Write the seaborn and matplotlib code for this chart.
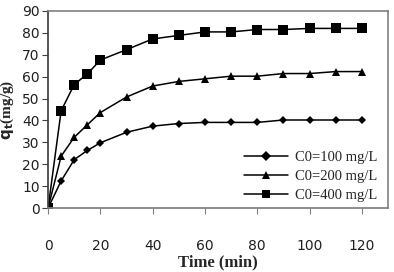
import matplotlib
matplotlib.use('Agg')
import matplotlib.pyplot as plt
import seaborn as sns
import pandas as pd

# contact time (min)
time_min = [0, 5, 10, 15, 20, 30, 40, 50, 60, 70, 80, 90, 100, 110, 120]
# qt (mg/g) for each initial concentration
qt_100 = [0, 12.4, 22.1, 26.3, 29.8, 34.6, 37.4, 38.6, 39.1, 39.1, 39.1, 40.2, 40.2, 40.2, 40.2]
qt_200 = [0, 23.7, 32.3, 38.0, 43.6, 50.7, 55.7, 57.8, 59.0, 60.2, 60.2, 61.4, 61.4, 62.3, 62.3]
qt_400 = [0, 44.4, 56.4, 61.2, 67.6, 72.3, 77.2, 78.8, 80.4, 80.4, 81.5, 81.5, 82.0, 82.0, 82.0]
labels = ["C0=100 mg/L", "C0=200 mg/L", "C0=400 mg/L"]

df = pd.concat([
    pd.DataFrame({"t": time_min, "qt": q, "series": lab})
    for q, lab in zip([qt_100, qt_200, qt_400], labels)
])

sns.set_theme(style="white")
fig = plt.figure(figsize=(3.94, 2.72), dpi=100)
ax = fig.add_axes([0.122, 0.235, 0.863, 0.725])

sns.lineplot(data=df, x="t", y="qt", hue="series", style="series",
             palette=["black"] * 3, markers=["D", "^", "s"], dashes=False,
             markersize=5.5, linewidth=1.1, markeredgewidth=0, ax=ax)
# smaller diamonds like the original
for line, ms in zip(ax.lines[:3], [4, 6, 6.5]):
    line.set_markersize(ms)

ax.set_xlim(0, 130)
ax.set_ylim(0, 90)
ax.set_xticks(range(0, 121, 20))
ax.set_yticks(range(0, 91, 10))
ax.tick_params(axis="y", direction="out", length=4, width=0.8, color="#404040",
               labelsize=10, pad=2, left=True)
ax.tick_params(axis="x", direction="out", length=4, width=0.8, color="#808080",
               labelsize=10, pad=18, bottom=True)
for lab in ax.get_xticklabels() + ax.get_yticklabels():
    lab.set_color("#202020")

for side in ["top", "right"]:
    ax.spines[side].set_color("#808080")
    ax.spines[side].set_linewidth(1.2)
ax.spines["left"].set_color("#404040")
ax.spines["bottom"].set_color("#808080")

ax.set_xlabel("Time (min)", family="Liberation Serif", fontweight="bold", fontsize=12, labelpad=1)
ax.set_ylabel("$\\mathbf{q_t}$(mg/g)", family="Liberation Serif", fontweight="bold", fontsize=11)
ax.yaxis.set_label_coords(-0.094, 0.5)

leg = ax.legend(loc="lower right", frameon=False, prop={"family": "Liberation Serif", "size": 10.5},
                handlelength=3.0, labelspacing=0.4, handletextpad=0.45, borderaxespad=0.0,
                bbox_to_anchor=(0.985, 0.0))
for h in leg.legend_handles:
    h.set_color("black")

fig.savefig("out.png", dpi=100)
